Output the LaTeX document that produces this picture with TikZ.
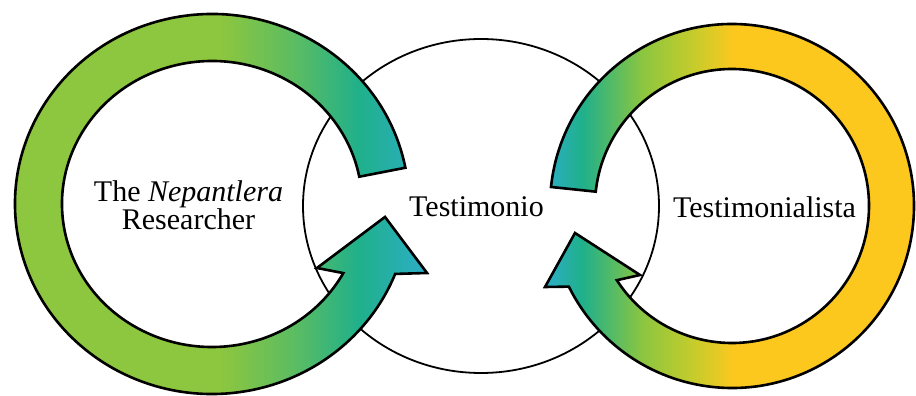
\documentclass[tikz,border=0pt]{standalone}
\usepackage{xcolor}
\usepackage{fontspec}
\setmainfont{Liberation Serif}
\usepackage{tikz}
\usetikzlibrary{calc,positioning}
\definecolor{ringgreen}{RGB}{141,198,63}
\definecolor{ringmid}{RGB}{88,188,100}
\definecolor{ringteal}{RGB}{32,176,138}
\definecolor{ringblue}{RGB}{44,174,200}
\definecolor{ringlime}{RGB}{196,204,44}
\definecolor{ringyellow}{RGB}{253,200,30}
\pgfdeclarehorizontalshading{leftring}{100bp}{color(0bp)=(ringgreen); color(51bp)=(ringgreen); color(60bp)=(ringmid); color(67bp)=(ringteal); color(75bp)=(ringblue); color(100bp)=(ringblue)}
\pgfdeclarehorizontalshading{rightring}{100bp}{color(0bp)=(ringblue); color(25bp)=(ringblue); color(30bp)=(ringteal); color(38bp)=(ringgreen); color(44.5bp)=(ringlime); color(50bp)=(ringyellow); color(100bp)=(ringyellow)}
\tikzstyle{ring} = [draw=black, line width=2.6pt, line join=miter]
\tikzstyle{ringtext} = [font=\fontsize{30}{26}\selectfont, align=center, inner sep=0pt]

\begin{document}
\begin{tikzpicture}[
      x=1pt, y=1pt
    ]
      \useasboundingbox (0,0) rectangle (916,396);
      \coordinate (lc) at (212,192);
      \coordinate (mc) at (481,190);
      \coordinate (rc) at (732,190);
      % middle circle
      \draw[line width=1.8pt, fill=white] (mc) ellipse [x radius=178, y radius=167];
      % left ring, arrow ends at lower right
      \coordinate (ltail) at ([shift={(lc)}]11:197 and 190);
      \coordinate (lin)   at ([shift={(lc)}]331.1:150 and 143);
      \path[ring, shading=leftring]
        (ltail) arc[start angle=11, end angle=338.4, x radius=197, y radius=190]
        -- (427,123) -- (385,179) -- (317,128) -- (lin)
        arc[start angle=331.1, end angle=11, x radius=150, y radius=143] -- cycle;
      % right ring, arrow ends at lower left
      \coordinate (rtail) at ([shift={(rc)}]174:182);
      \coordinate (rin)   at ([shift={(rc)}]-147.2:137);
      \path[ring, shading=rightring]
        (rtail) arc[start angle=174, end angle=-153.7, radius=182]
        -- (545,109) -- (575,163) -- (640,121) -- (rin)
        arc[start angle=-147.2, end angle=174, radius=137] -- cycle;
      \node[ringtext] (researcher) at (188.5,190.5) {The \textit{Nepantlera}\\Researcher};
      \node[ringtext, anchor=base] (testimonio) at (476.5,179) {Testimonio};
      \node[ringtext, anchor=base] (testimonialista) at (764.5,178) {Testimonialista};
    \end{tikzpicture}
\end{document}
